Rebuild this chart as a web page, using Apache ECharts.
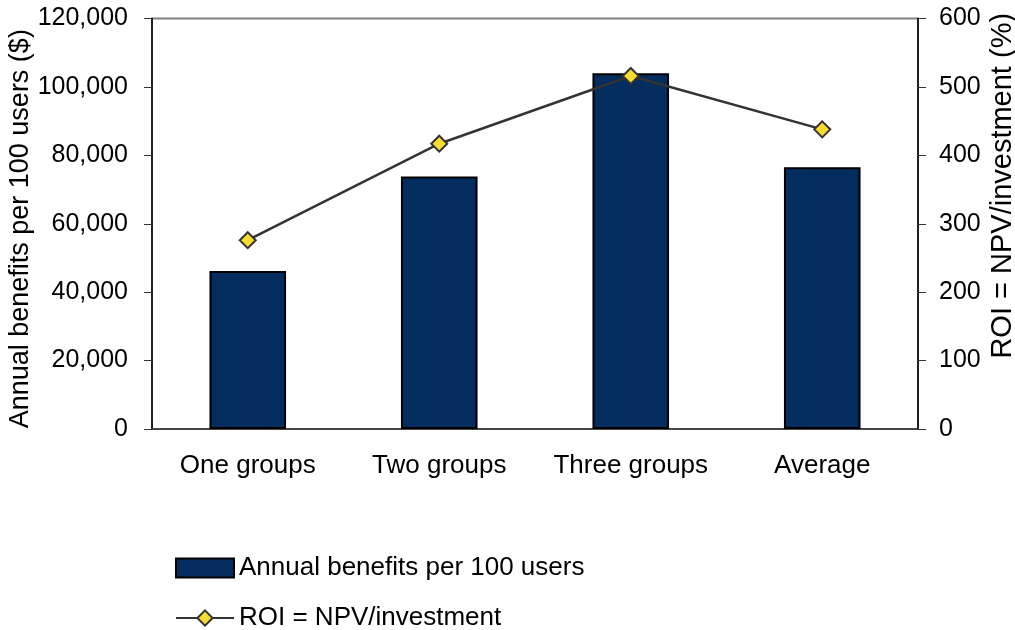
<!DOCTYPE html>
<html>
<head>
<meta charset="utf-8">
<script src="https://cdn.jsdelivr.net/npm/echarts@6/dist/echarts.min.js"></script>
<style>
  html, body { margin: 0; padding: 0; background: #fff; }
  #chart { width: 1015px; height: 630px; }
</style>
</head>
<body>
<div id="chart"></div>
<script>
const categories = ['One groups', 'Two groups', 'Three groups', 'Average']
const benefits = [46200, 73800, 104000, 76500]
const roi = [276, 417, 516, 438]

const font = 'Liberation Sans, Arial, sans-serif'

const legendText = { fontSize: 26, color: '#000', fontFamily: font }

const chart = echarts.init(document.getElementById('chart'))
chart.setOption({
  animation: false,
  textStyle: { fontFamily: font },
  grid: {
    left: 152,
    right: 97,
    top: 18.5,
    bottom: 201,
    outerBoundsMode: 'none',
    containLabel: false,
    show: true,
    borderColor: '#808080',
    borderWidth: 2
  },
  legend: [{
    left: 170,
    top: 550,
    itemWidth: 58,
    itemHeight: 19,
    textStyle: legendText,
    data: [{ name: 'Annual benefits per 100 users', icon: 'rect' }]
  }, {
    left: 170,
    top: 600,
    itemWidth: 58,
    itemHeight: 19,
    textStyle: legendText,
    data: [{ name: 'ROI = NPV/investment' }]
  }],
  xAxis: [{
    type: 'category',
    data: categories,
    axisLine: { lineStyle: { color: '#333', width: 1.5 } },
    axisTick: { length: 7, lineStyle: { color: '#333' } },
    axisLabel: { fontSize: 26, color: '#000', margin: 24, interval: 0 }
  }],
  yAxis: [{
    type: 'value',
    min: 0,
    max: 120000,
    interval: 20000,
    name: 'Annual benefits per 100 users ($)',
    nameLocation: 'middle',
    nameGap: 118,
    nameMoveOverlap: false,
    nameTextStyle: { fontSize: 27, color: '#000', padding: [0, 10, 0, 0] },
    splitLine: { show: false },
    axisLine: { show: true, lineStyle: { color: '#000', width: 1.5 } },
    axisTick: { show: true, length: 8, lineStyle: { color: '#333' } },
    axisLabel: {
      fontSize: 25,
      color: '#000',
      margin: 24,
      formatter: v => v.toLocaleString('en-US')
    }
  }, {
    type: 'value',
    position: 'right',
    min: 0,
    max: 600,
    interval: 100,
    name: 'ROI = NPV/investment (%)',
    nameLocation: 'middle',
    nameRotate: 90,
    nameGap: 70,
    nameMoveOverlap: false,
    nameTextStyle: { fontSize: 29, color: '#000', padding: [0, 0, 0, 76] },
    splitLine: { show: false },
    axisLine: { show: true, lineStyle: { color: '#000', width: 1.5 } },
    axisTick: { show: true, length: 8, lineStyle: { color: '#333' } },
    axisLabel: { fontSize: 25, color: '#000', margin: 21 }
  }],
  series: [{
    name: 'Annual benefits per 100 users',
    type: 'bar',
    barWidth: '40%',
    data: benefits,
    itemStyle: {
      color: '#022d5e',
      borderColor: '#000',
      borderWidth: 2
    }
  }, {
    name: 'ROI = NPV/investment',
    type: 'line',
    yAxisIndex: 1,
    data: roi,
    symbol: 'diamond',
    symbolSize: 16,
    lineStyle: { color: '#333', width: 2.5 },
    itemStyle: {
      color: '#f9dc30',
      borderColor: '#333',
      borderWidth: 2
    }
  }]
})
</script>
</body>
</html>
